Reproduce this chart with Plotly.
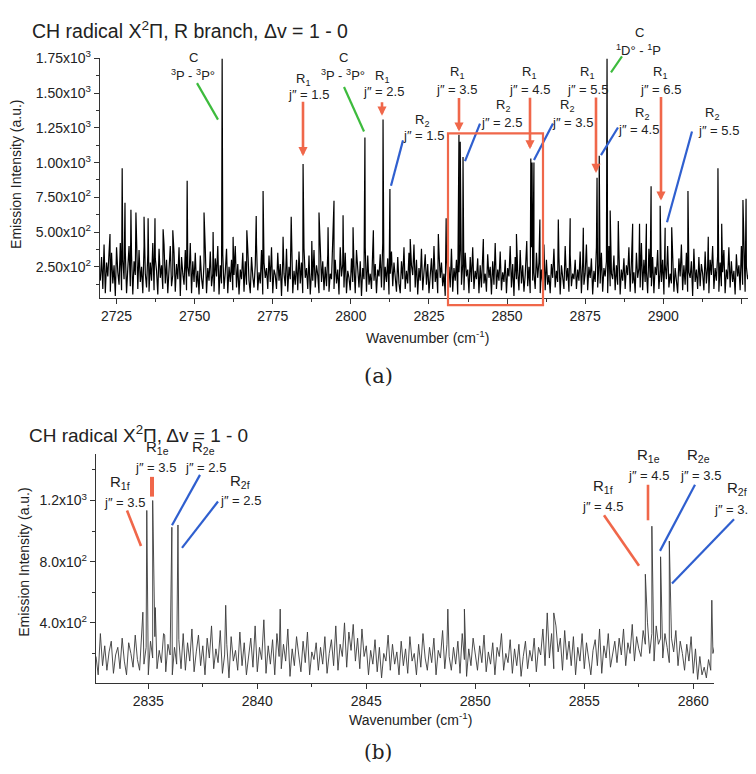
import plotly.graph_objects as go

W, H = 756, 774
OFF = 8  # page body margin

# ---------------- Panel (a) data ----------------
a_x_start, a_step = 2719.8, 0.4
a_noise = [
150, 320, 90, 410, 60, 280, 180, 430, 70, 350, 130, 260, 40, 390, 210, 120, 420, 80, 300, 160,
360, 60, 240, 400, 110, 330, 50, 290, 190, 440, 90, 370, 140, 250, 60, 400, 200, 100, 340, 70,
280, 150, 420, 80, 310, 220, 50, 380, 170, 260, 90, 410, 130, 300, 60, 230, 400, 110, 190, 350,
70, 270, 160, 390, 40, 320, 200, 120, 370, 80, 250, 180, 420, 60, 290, 140, 350, 100, 220, 50,
330, 170, 90, 280, 380, 60, 240, 150, 360, 110, 200, 70, 310, 180, 400, 50, 260, 130, 340, 90,
210, 380, 60, 250, 140, 300, 80, 190, 400, 100, 270, 50, 230, 160, 350, 70, 290, 120, 380, 150,
60, 320, 180, 100, 260, 410, 80, 210, 130, 370, 50, 280, 170, 240, 90, 330, 140, 390, 60, 230,
190, 90, 350, 150, 270, 40, 310, 200, 110, 380, 70, 250, 160, 400, 60, 220, 120, 300, 80, 360,
130, 280, 60, 380, 170, 240, 90, 330, 50, 210, 150, 370, 100, 260, 190, 60, 400, 140, 290, 80,
250, 110, 340, 70, 200, 160, 410, 90, 300, 130, 230, 50, 390, 180, 270, 100, 350, 60, 220, 170,
80, 310, 140, 260, 60, 370, 190, 100, 290, 40, 240, 160, 390, 70, 330, 120, 200, 90, 380, 150,
270, 60, 230, 180, 340, 100, 420, 80, 250, 140, 310, 50, 200, 360, 110, 280, 170, 70, 320, 130,
60, 290, 160, 390, 90, 220, 130, 350, 70, 260, 190, 410, 100, 300, 50, 240, 150, 380, 80, 210,
340, 120, 270, 60, 190, 310, 90, 400, 140, 230, 60, 360, 170, 280, 110, 200, 40, 330, 160, 250,
100, 380, 70, 240, 150, 300, 50, 210, 410, 120, 270, 80, 350, 180, 230, 60, 320, 140, 390, 90,
220, 160, 310, 60, 260, 100, 390, 130, 200, 70, 340, 170, 250, 50, 290, 120, 420, 90, 230, 150,
360, 80, 210, 140, 300, 60, 240, 180, 400, 100, 270, 40, 320, 160, 220, 80, 370, 130, 260, 70,
190, 330, 110, 250, 60, 390, 150, 210, 90, 350, 170, 280, 60, 230, 130, 410, 80, 300, 120, 190,
60, 270, 170, 380, 100, 220, 140, 320, 50, 260, 190, 90, 400, 150, 240, 70, 340, 110, 200, 160,
300, 90, 230, 150, 360, 60, 280, 120, 200, 410, 80, 250, 170, 310, 50, 220, 140, 390, 100, 270,
130, 350, 70, 240, 180, 290, 60, 400, 110, 200, 160, 330, 80, 260, 120, 370, 50, 230, 150, 310,
90, 260, 190, 390, 70, 280, 130, 210, 60, 350, 170, 240, 100, 420, 80, 300, 140, 220, 60, 380,
170, 110, 320, 60, 250, 190, 370, 90, 230, 140, 300, 50, 270, 160, 400, 100, 200, 130, 340, 70,
240, 150, 60, 310, 180, 410, 80, 260, 120, 350, 70, 210, 170, 290, 40, 380, 140, 230, 90, 320,
110, 270, 200, 80, 360, 130, 250, 60, 300, 190, 400, 90, 240, 150, 330, 70, 280, 110, 210, 370,
60, 230, 160, 390, 100, 290, 140, 220, 50, 340, 180, 260, 80, 400, 120, 300, 70, 250, 160, 200,
320, 90, 240,
]
a_peak_x = [2722.9, 2726.8, 2727.7, 2729.6, 2731.2, 2733.8, 2735.1, 2737.3, 2739.9, 2743.0,
            2747.6, 2753.0, 2755.9, 2758.8, 2762.3, 2766.7, 2769.7, 2771.9, 2778.3, 2780.9,
            2784.7, 2787.5, 2789.8, 2792.7, 2794.6, 2797.5, 2800.7, 2804.5, 2807.2, 2810.3,
            2812.5, 2819.0, 2828.0, 2830.5, 2834.6, 2835.0, 2835.9, 2842.4, 2853.0, 2856.3,
            2857.6, 2858.0, 2858.6, 2860.5, 2866.4, 2870.2, 2874.4, 2878.8, 2879.5, 2882.0,
            2883.0, 2885.6, 2890.2, 2892.4, 2894.6, 2896.1, 2899.0, 2900.6, 2902.7, 2907.9,
            2914.4, 2917.5, 2918.7, 2925.5, 2926.5, 2927.5]
a_peak_y = [485, 960, 710, 660, 640, 610, 600, 600, 520, 512,
            870, 640, 500, 1750, 465, 512, 615, 795, 465, 610,
            990, 435, 640, 535, 725, 620, 535, 1180, 512, 1310,
            810, 450, 485, 600, 1200, 1150, 1040, 450, 485, 435,
            1030, 1000, 1000, 590, 590, 600, 530, 890, 1050, 1750,
            655, 580, 560, 560, 560, 830, 690, 530, 535, 795,
            465, 960, 560, 730, 740, 720]

a_yticks = [250, 500, 750, 1000, 1250, 1500, 1750]
a_yticklabels = ["2.50x10<sup>2</sup>", "5.00x10<sup>2</sup>", "7.50x10<sup>2</sup>",
                 "1.00x10<sup>3</sup>", "1.25x10<sup>3</sup>", "1.50x10<sup>3</sup>",
                 "1.75x10<sup>3</sup>"]
a_xticks = [2725, 2750, 2775, 2800, 2825, 2850, 2875, 2900, 2925]

# ---------------- Panel (b) data ----------------
b_x_start, b_step = 2832.6, 0.1
b_noise = [
180, 60, 330, 120, 250, 90, 210, 280, 70, 190, 240, 100, 300, 150, 60, 270, 200, 110, 320, 160,
90, 350, 130, 240, 60, 280, 170, 310, 100, 220, 140, 330, 80, 260, 190, 60, 240, 130, 290, 100,
330, 90, 270, 150, 360, 80, 210, 320, 120, 250, 60, 300, 170, 380, 100, 230, 140, 350, 70, 190,
260, 40, 310, 150, 220, 90, 340, 120, 270, 60, 200, 300, 110, 380, 80, 240, 160, 420, 70, 250,
130, 290, 60, 330, 180, 100, 260, 150, 360, 50, 230, 120, 310, 190, 80, 280, 140, 340, 60, 210,
160, 270, 90, 240, 130, 310, 70, 200, 290, 120, 380, 90, 260, 180, 400, 110, 340, 220, 390, 150,
300, 100, 360, 180, 250, 60, 220, 130, 290, 80, 240, 40, 200, 150, 320, 90, 260, 130, 210, 60,
280, 120, 230, 70, 310, 150, 200, 60, 260, 110, 330, 170, 90, 240, 140, 300, 60, 220, 170, 350,
100, 260, 180, 90, 240, 130, 280, 70, 330, 160, 50, 230, 120, 300, 180, 90, 250, 140, 320, 80,
210, 130, 270, 60, 240, 180, 330, 90, 200, 140, 290, 70, 230, 120, 260, 50, 180, 280, 100, 220,
150, 300, 80, 240, 190, 360, 120, 400, 170, 330, 100, 380, 210, 300, 90, 350, 160, 280, 120, 310,
60, 240, 150, 330, 100, 270, 180, 60, 220, 290, 120, 360, 70, 250, 170, 330, 110, 200, 280, 140,
300, 190, 360, 120, 270, 200, 390, 150, 310, 230, 180, 350, 260, 400, 200, 330, 150, 380, 260, 300,
170, 330, 240, 140, 300, 210, 350, 120, 280, 200, 90, 260, 150, 310, 70, 230, 30, 180, 60, 110,
40, 160, 90, 200, 260,
]
b_peak_x = [2834.75, 2834.93, 2835.2, 2835.32, 2835.75, 2836.08, 2836.36, 2838.55, 2841.05,
            2848.74, 2849.5, 2853.3, 2853.6, 2857.8, 2858.1, 2858.5, 2858.9, 2860.85]
b_peak_y = [470, 1135, 1200, 500, 320, 1025, 1040, 515, 490,
            490, 490, 465, 465, 718, 1032, 832, 935, 548]

b_yticks = [400, 800, 1200]
b_yticklabels = ["4.0x10<sup>2</sup>", "8.0x10<sup>2</sup>", "1.2x10<sup>3</sup>"]
b_xticks = [2835, 2840, 2845, 2850, 2855, 2860]


def merge(x0, step, noise, px_, py_):
    xs = [x0 + i * step for i in range(len(noise))]
    pts = list(zip(xs, noise)) + list(zip(px_, py_))
    pts.sort(key=lambda p: p[0])
    return [p[0] for p in pts], [p[1] for p in pts]


ax_x, ax_y = merge(a_x_start, a_step, a_noise, a_peak_x, a_peak_y)
bx_x, bx_y = merge(b_x_start, b_step, b_noise, b_peak_x, b_peak_y)

FONT = "Liberation Sans, Arial, sans-serif"
RED = "#f0674a"
BLUE = "#2f5fcf"
GREEN = "#3dbb3d"

# figure sized so the page (with its 8px body margin) does not overflow the window
FW, FH = W - OFF, H - 2 * OFF


def px(x):
    return (x - OFF) / FW


def py(y):
    return 1 - (y - OFF) / FH


fig = go.Figure()
fig.add_trace(go.Scatter(x=ax_x, y=ax_y, mode="lines", line=dict(color="#000000", width=1.2),
                         xaxis="x", yaxis="y", showlegend=False, hoverinfo="skip"))
fig.add_trace(go.Scatter(x=bx_x, y=bx_y, mode="lines", line=dict(color="#3a3a3a", width=0.9),
                         xaxis="x2", yaxis="y2", showlegend=False, hoverinfo="skip"))

axis_common = dict(showline=True, linecolor="#333333", linewidth=1.3, ticks="outside",
                   tickcolor="#333333", ticklen=5, tickwidth=1.2, showgrid=False, zeroline=False,
                   tickfont=dict(family=FONT, size=14, color="#222222"), mirror=False)

fig.update_layout(
    width=FW, height=FH, margin=dict(l=0, r=0, t=0, b=0),
    paper_bgcolor="white", plot_bgcolor="white",
    font=dict(family=FONT, color="#222222"),
    xaxis=dict(domain=[px(100), px(752)], range=[2719.7, 2928.4], anchor="y",
               tickvals=a_xticks, minor=dict(dtick=12.5, tick0=2725, ticks="outside", ticklen=3,
                                            tickcolor="#333333"), **axis_common),
    yaxis=dict(domain=[py(292), py(49)], range=[23, 1750], anchor="x",
               tickvals=a_yticks, ticktext=a_yticklabels,
               minor=dict(dtick=125, tick0=0, ticks="outside", ticklen=3, tickcolor="#333333"),
               **axis_common),
    xaxis2=dict(domain=[px(96), px(714)], range=[2832.6, 2860.95], anchor="y2",
                tickvals=b_xticks, minor=dict(dtick=2.5, tick0=2835, ticks="outside", ticklen=3,
                                             tickcolor="#333333"), **axis_common),
    yaxis2=dict(domain=[py(681.7), py(450)], range=[8, 1503], anchor="x2",
                tickvals=b_yticks, ticktext=b_yticklabels,
                minor=dict(dtick=200, tick0=0, ticks="outside", ticklen=3, tickcolor="#333333"),
                **axis_common),
)

ann = []
shapes = []


def text(t, x, y, size=13, family=FONT, angle=0, xanchor="center"):
    ann.append(dict(text=t, x=px(x), y=py(y), xref="paper", yref="paper", showarrow=False,
                    xanchor=xanchor, yanchor="middle", textangle=angle,
                    font=dict(family=family, size=size, color="#222222")))


def line(x0, y0, x1, y1, color, width=2.2):
    shapes.append(dict(type="line", xref="paper", yref="paper", x0=px(x0), y0=py(y0),
                       x1=px(x1), y1=py(y1), line=dict(color=color, width=width)))


def arrow(x0, y0, x1, y1, color=RED):
    ann.append(dict(text="", x=px(x1), y=py(y1), xref="paper", yref="paper", showarrow=True,
                    ax=x0 - x1, ay=y0 - y1, axref="pixel", ayref="pixel",
                    arrowhead=2, arrowsize=0.7, arrowwidth=2.6, arrowcolor=color, standoff=0))


# titles
text("CH radical X<sup>2</sup>Π, R branch, Δv = 1 - 0", 30, 20, size=19.5, xanchor="left")
text("CH radical X<sup>2</sup>Π, Δv = 1 - 0", 27, 430, size=19, xanchor="left")
text("Emission Intensity (a.u.)", 16, 167, size=14, angle=-90)
text("Emission Intensity (a.u.)", 24, 560, size=14, angle=-90)
text("Wavenumber (cm<sup>-1</sup>)", 427, 331, size=14)
text("Wavenumber (cm<sup>-1</sup>)", 410, 718, size=14)
text("(a)", 378, 371, size=21, family="DejaVu Serif, serif")
text("(b)", 378, 752, size=20, family="DejaVu Serif, serif")

# panel (a) labels
JP = "j″ = "
labels_a = [
    ("C", 193, 48), ("<sup>3</sup>P - <sup>3</sup>P°", 193, 66),
    ("R<sub>1</sub>", 303, 70), (JP + "1.5", 308, 86),
    ("C", 343, 48), ("<sup>3</sup>P - <sup>3</sup>P°", 343, 66),
    ("R<sub>1</sub>", 382, 67), (JP + "2.5", 383, 82),
    ("R<sub>2</sub>", 422, 112), (JP + "1.5", 423, 127),
    ("R<sub>1</sub>", 457, 63), (JP + "3.5", 457, 80),
    ("R<sub>2</sub>", 503, 97), (JP + "2.5", 501, 114),
    ("R<sub>1</sub>", 529, 63), (JP + "4.5", 529, 80),
    ("R<sub>2</sub>", 567, 97), (JP + "3.5", 572, 114),
    ("R<sub>1</sub>", 587, 63), (JP + "5.5", 587, 80),
    ("C", 639, 23), ("<sup>1</sup>D° - <sup>1</sup>P", 638, 40),
    ("R<sub>2</sub>", 642, 105), (JP + "4.5", 638, 121),
    ("R<sub>1</sub>", 660, 63), (JP + "6.5", 660, 80),
    ("R<sub>2</sub>", 712, 105), (JP + "5.5", 718, 122),
]
for t, x, y in labels_a:
    text(t, x, y, size=13)

for (x0, y0, x1, y1) in [(303, 92, 303, 148), (382, 92, 382, 107), (459, 88, 459, 123),
                         (530, 88, 530, 141), (596, 88, 596, 165), (661, 88, 661, 193)]:
    arrow(x0, y0, x1, y1)
for (x0, y0, x1, y1) in [(403, 132, 391, 178), (480, 115, 465, 153), (553, 115, 534, 152),
                         (618, 119, 601, 147), (692, 123, 667, 215)]:
    line(x0, y0, x1, y1, BLUE)
for (x0, y0, x1, y1) in [(197, 74, 218, 111), (344, 78, 364, 123), (622, 47, 611, 63)]:
    line(x0, y0, x1, y1, GREEN)

# red zoom box
shapes.append(dict(type="rect", xref="paper", yref="paper", x0=px(448), x1=px(543),
                   y0=py(299), y1=py(125), line=dict(color=RED, width=2.2)))

# panel (b) labels
labels_b = [
    ("R<sub>1f</sub>", 120, 479, 15), (JP + "3.5", 125, 499, 13),
    ("R<sub>1e</sub>", 157, 443, 15), (JP + "3.5", 155, 464, 13),
    ("R<sub>2e</sub>", 203, 443, 15), (JP + "2.5", 205, 464, 13),
    ("R<sub>2f</sub>", 240, 478, 15), (JP + "2.5", 240, 497, 13),
    ("R<sub>1f</sub>", 603, 483, 15), (JP + "4.5", 602, 503, 13),
    ("R<sub>1e</sub>", 648, 451, 15), (JP + "4.5", 648, 472, 13),
    ("R<sub>2e</sub>", 698, 451, 15), (JP + "3.5", 700, 472, 13),
    ("R<sub>2f</sub>", 737, 485, 15), (JP + "3.5", 734, 506, 13),
]
for t, x, y, s in labels_b:
    text(t, x, y, size=s)

for (x0, y0, x1, y1, w) in [(127, 507, 141, 543, 2.6), (152, 473, 152, 493, 4),
                            (604, 512, 639, 563, 2.6), (648, 481, 648, 517, 2.6)]:
    line(x0, y0, x1, y1, RED, w)
for (x0, y0, x1, y1) in [(200, 471, 172, 522), (218, 498, 182, 545),
                         (695, 481, 660, 548), (734, 516, 672, 581)]:
    line(x0, y0, x1, y1, BLUE)

fig.update_layout(annotations=ann, shapes=shapes)
fig.write_html("out.html")
